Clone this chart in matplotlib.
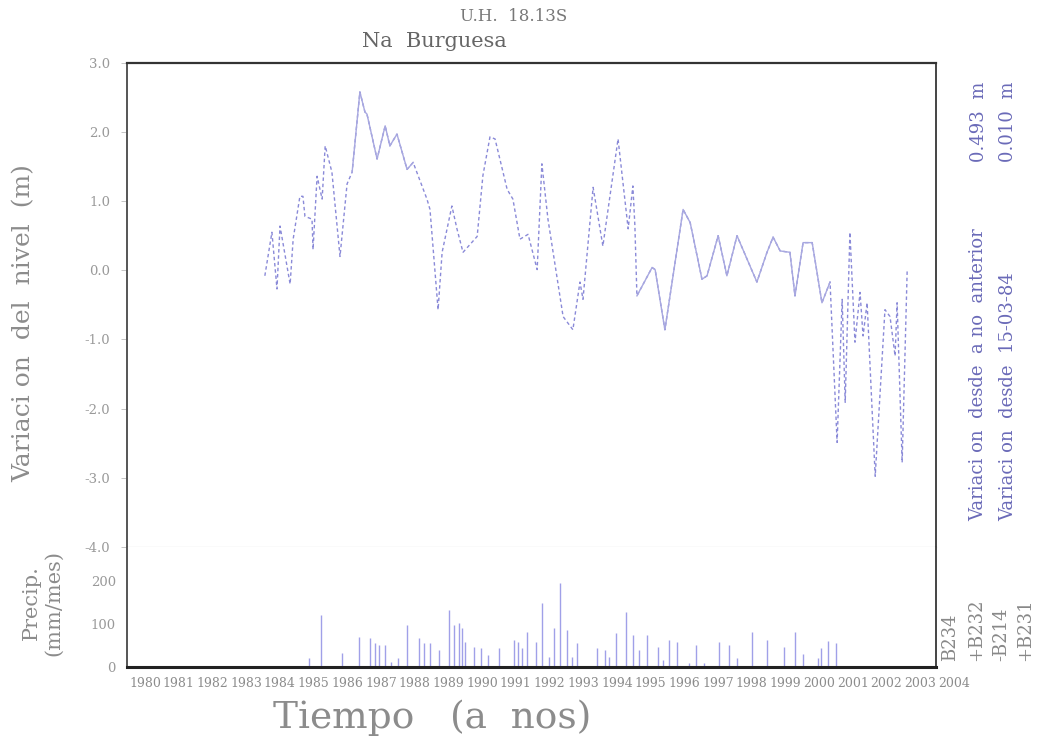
import numpy as np
import matplotlib.pyplot as plt
from matplotlib.transforms import ScaledTranslation

# variacion del nivel (m)
anios = [1984.09, 1984.30, 1984.45, 1984.54, 1984.84, 1984.93, 1985.13, 1985.22,
         1985.28, 1985.49, 1985.52, 1985.64, 1985.79, 1985.88, 1986.08, 1986.32,
         1986.53, 1986.68, 1986.91, 1987.06, 1987.12, 1987.42, 1987.66, 1987.80,
         1988.01, 1988.31, 1988.49, 1988.90, 1988.99, 1989.23, 1989.35, 1989.64,
         1989.79, 1989.97, 1990.39, 1990.56, 1990.77, 1990.92, 1991.28, 1991.45,
         1991.66, 1991.90, 1992.17, 1992.31, 1992.49, 1992.94, 1993.23, 1993.44,
         1993.53, 1993.83, 1994.12, 1994.57, 1994.87, 1995.01, 1995.07, 1995.13,
         1995.58, 1995.67, 1995.96, 1996.50, 1996.71, 1997.06, 1997.21, 1997.54,
         1997.80, 1998.10, 1998.69, 1998.99, 1999.17, 1999.38, 1999.67, 1999.82,
         2000.06, 2000.33, 2000.62, 2000.86, 2001.07, 2001.22, 2001.31, 2001.45,
         2001.60, 2001.75, 2001.84, 2001.96, 2002.20, 2002.49, 2002.64, 2002.79,
         2002.85, 2003.00, 2003.15]
nivel = [-0.08, 0.55, -0.27, 0.64, -0.20, 0.45, 1.07, 1.07,
         0.78, 0.74, 0.30, 1.36, 1.03, 1.80, 1.42, 0.20,
         1.25, 1.42, 2.58, 2.29, 2.26, 1.61, 2.09, 1.80,
         1.97, 1.46, 1.56, 1.03, 0.88, -0.57, 0.26, 0.93,
         0.60, 0.26, 0.49, 1.37, 1.93, 1.90, 1.17, 1.03,
         0.45, 0.52, 0.01, 1.54, 0.74, -0.67, -0.86, -0.17,
         -0.42, 1.20, 0.35, 1.90, 0.60, 1.22, 0.64, -0.37,
         0.04, 0.01, -0.86, 0.88, 0.69, -0.13, -0.08, 0.50,
         -0.08, 0.50, -0.17, 0.26, 0.48, 0.28, 0.26, -0.37,
         0.40, 0.40, -0.47, -0.17, -2.49, -0.42, -1.91, 0.55,
         -1.04, -0.32, -0.95, -0.47, -2.98, -0.57, -0.67, -1.24,
         -0.47, -2.78, 0.02]
tramos_continuos = [(1986.6, 1988.6), (1995.1, 2000.9)]

# precipitacion (mm/mes)
precip_t = [1985.40, 1985.75, 1986.37, 1986.87, 1987.22, 1987.37, 1987.49, 1987.67,
            1987.82, 1988.03, 1988.31, 1988.67, 1988.82, 1989.00, 1989.26, 1989.55,
            1989.70, 1989.85, 1989.94, 1990.03, 1990.31, 1990.49, 1990.70, 1991.03,
            1991.47, 1991.61, 1991.73, 1991.88, 1992.14, 1992.32, 1992.53, 1992.68,
            1992.85, 1993.06, 1993.21, 1993.36, 1993.96, 1994.17, 1994.31, 1994.52,
            1994.82, 1995.00, 1995.20, 1995.43, 1995.77, 1995.89, 1996.09, 1996.33,
            1996.68, 1996.89, 1997.13, 1997.57, 1997.86, 1998.10, 1998.53, 1998.99,
            1999.48, 1999.82, 2000.06, 2000.51, 2000.60, 2000.80, 2001.04]
precip_mm = [20, 121, 33, 70, 67, 56, 51, 51,
             12, 21, 98, 67, 56, 56, 40, 133,
             98, 102, 91, 58, 47, 44, 28, 44,
             63, 58, 44, 81, 58, 149, 23, 91,
             195, 86, 23, 56, 44, 40, 23, 79,
             128, 74, 40, 74, 47, 16, 63, 58,
             9, 51, 9, 58, 51, 21, 81, 63,
             47, 81, 30, 20, 45, 60, 55]

anios_eje = list(range(1980, 2005))

gris = '#8c8c8c'
azul = '#8a8ad8'
serif = 'DejaVu Serif'

fig = plt.figure(figsize=(10.41, 7.49), dpi=100)
ax = fig.add_axes([0.122, 0.270, 0.777, 0.646])
ax2 = fig.add_axes([0.122, 0.1095, 0.777, 0.1605], sharex=ax)

t = np.array(anios)
v = np.array(nivel)
ax.plot(t, v, color=azul, lw=1.0, ls=(0, (2.5, 2)))
for a, b in tramos_continuos:
    m = (t >= a) & (t <= b)
    ax.plot(t[m], v[m], color='#a8a8e0', lw=1.0, ls='-')

ax.set_xlim(1980, 2004)
ax.set_ylim(-4.0, 3.0)
ax.set_yticks(np.arange(-4, 3.1, 1.0))
ax.set_yticklabels(['%.1f' % y for y in np.arange(-4, 3.1, 1.0)])
ax.tick_params(axis='y', length=4, width=0.6, color='#bbbbbb', labelcolor='#999999',
               labelsize=9.5, pad=8)
ax.tick_params(axis='x', bottom=False, labelbottom=False)
for lab in ax.get_yticklabels():
    lab.set_family(serif)
ax.spines['top'].set_color('#333333')
ax.spines['top'].set_linewidth(1.6)
ax.spines['left'].set_color('#555555')
ax.spines['left'].set_linewidth(1.4)
ax.spines['right'].set_color('#444444')
ax.spines['right'].set_linewidth(1.4)
ax.spines['bottom'].set_color('#b0b0b0')
ax.spines['bottom'].set_linewidth(0.8)

ax2.vlines(precip_t, 0, precip_mm, color='#a0a0e8', lw=1.0)
ax2.set_ylim(0, 280)
ax2.set_yticks([0, 100, 200])
ax2.tick_params(axis='y', length=0, labelcolor='#999999', labelsize=9.5, pad=8)
for lab in ax2.get_yticklabels():
    lab.set_family(serif)
ax2.spines['top'].set_visible(False)
ax2.spines['left'].set_color('#555555')
ax2.spines['left'].set_linewidth(1.4)
ax2.spines['right'].set_color('#444444')
ax2.spines['right'].set_linewidth(1.4)
ax2.spines['bottom'].set_color('#222222')
ax2.spines['bottom'].set_linewidth(2.2)
ax2.set_xticks(anios_eje)
ax2.set_xticklabels([str(a) for a in anios_eje])
ax2.tick_params(axis='x', length=0, labelcolor=gris, labelsize=9, pad=7)
desplaza = ScaledTranslation(18 / 100, 0, fig.dpi_scale_trans)
for lab in ax2.get_xticklabels():
    lab.set_family(serif)
    lab.set_transform(lab.get_transform() + desplaza)

fig.text(0.493, 0.978, 'U.H.  18.13S', ha='center', va='center', fontsize=12,
         color='#777777', family=serif)
fig.text(0.348, 0.945, 'Na  Burguesa', ha='left', va='center', fontsize=15,
         color='#666666', family=serif)
fig.text(0.023, 0.569, 'Variaci on  del  nivel  (m)', rotation=90, ha='center',
         va='center', fontsize=18, color=gris, family=serif)
fig.text(0.030, 0.195, 'Precip.', rotation=90, ha='center', va='center',
         fontsize=15, color=gris, family=serif)
fig.text(0.052, 0.195, '(mm/mes)', rotation=90, ha='center', va='center',
         fontsize=15, color=gris, family=serif)
fig.text(0.415, 0.042, 'Tiempo   (a  nos)', ha='center', va='center', fontsize=27,
         color=gris, family=serif)

fig.text(0.940, 0.305, 'Variaci on  desde  a no  anterior', rotation=90,
         ha='center', va='bottom', fontsize=13, color='#6a6ab8', family=serif)
fig.text(0.940, 0.891, '0.493  m', rotation=90, ha='center', va='top',
         fontsize=13, color='#6a6ab8', family=serif)
fig.text(0.968, 0.305, 'Variaci on  desde  15-03-84', rotation=90,
         ha='center', va='bottom', fontsize=13, color='#6a6ab8', family=serif)
fig.text(0.968, 0.891, '0.010  m', rotation=90, ha='center', va='top',
         fontsize=13, color='#6a6ab8', family=serif)

for x, s in zip([0.913, 0.938, 0.962, 0.985], ['B234', '+B232', '-B214', '+B231']):
    fig.text(x, 0.118, s, rotation=90, ha='center', va='bottom', fontsize=13,
             color='#888888', family=serif)

fig.savefig('out.png', dpi=100)
